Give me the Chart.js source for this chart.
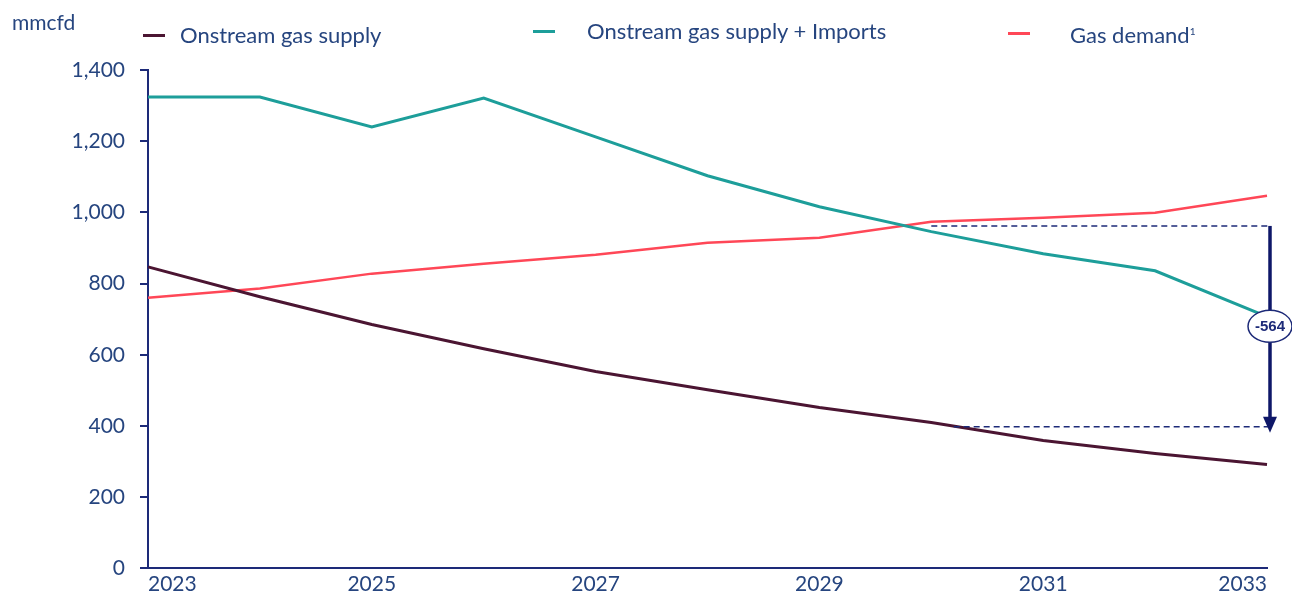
<!DOCTYPE html>
<html>
<head>
<meta charset="utf-8">
<script src="https://cdn.jsdelivr.net/npm/chart.js@4"></script>
<style>
  body { margin: 0; background: #fff; }
  #wrap { position: relative; width: 1292px; height: 596px; font-family: Lato, "Open Sans", sans-serif; color: #26457f; }
  #unit { position: absolute; left: 12px; top: 9px; font-size: 21px; line-height: 26px; }
  .leg { position: absolute; font-size: 22px; line-height: 26px; white-space: nowrap; }
  .leg i { position: absolute; top: 50%; height: 3px; margin-top: -1px; width: 22px; }
  .leg sup { font-size: 10px; }
</style>
</head>
<body>
<div id="wrap">
  <canvas id="chart" width="1292" height="596"></canvas>
  <div id="unit">mmcfd</div>
  <div id="legend"></div>
</div>
<script>
//categories
const years = ["2023", "2024", "2025", "2026", "2027", "2028", "2029", "2030", "2031", "2032", "2033"];
//series values (mmcfd)
const onstreamSupply = [847, 763, 685, 617, 553, 502, 452, 410, 359, 323, 292];
const supplyPlusImports = [1324, 1324, 1240, 1321, 1212, 1103, 1016, 946, 884, 836, 707];
const gasDemand = [760, 786, 828, 856, 881, 915, 929, 974, 985, 999, 1047];
const seriesNames = ["Onstream gas supply", "Onstream gas supply + Imports", "Gas demand"];
//y axis ticks
const yMin = 0, yMax = 1400, yStep = 200;
//gap shown on the right
const gapTop = 962;
const gapBottom = 398;
const gapLabel = "-564";

const navy = "#1d2a78";
const textColor = "#26457f";
const colors = ["#4b1532", "#1d9e9a", "#ff4757"];

//legend (html)
const legendPlaces = [
  { left: 143, top: 22, gap: 37 },
  { left: 533, top: 18, gap: 54 },
  { left: 1008, top: 18, gap: 62 },
];
const legend = document.getElementById("legend");
seriesNames.forEach((name, i) => {
  const p = legendPlaces[i];
  const d = document.createElement("div");
  d.className = "leg";
  d.style.left = p.left + "px";
  d.style.top = p.top + "px";
  d.style.paddingLeft = p.gap + "px";
  d.innerHTML = `<i style="left:0;background:${colors[i]}"></i>${name}${i === 2 ? "<sup>1</sup>" : ""}`;
  legend.appendChild(d);
});

//draws the dashed gap lines, arrow and bubble
const gapPlugin = {
  id: "gap",
  afterDatasetsDraw(chart) {
    const { ctx, scales: { x, y } } = chart;
    const yTop = y.getPixelForValue(gapTop);
    const yBot = y.getPixelForValue(gapBottom);
    const ax = x.getPixelForValue(years.length - 1) + 3;
    ctx.save();
    ctx.strokeStyle = navy;
    ctx.lineWidth = 1.6;
    ctx.setLineDash([6, 4]);
    ctx.beginPath();
    ctx.moveTo(x.getPixelForValue(7), yTop);
    ctx.lineTo(ax, yTop);
    ctx.moveTo(x.getPixelForValue(7.2), yBot);
    ctx.lineTo(ax, yBot);
    ctx.stroke();
    ctx.setLineDash([]);
    //arrow
    ctx.strokeStyle = "#0e1768";
    ctx.fillStyle = "#0e1768";
    ctx.lineWidth = 3.5;
    ctx.beginPath();
    ctx.moveTo(ax, yTop);
    ctx.lineTo(ax, yBot - 8);
    ctx.stroke();
    ctx.beginPath();
    ctx.moveTo(ax - 7, yBot - 10);
    ctx.lineTo(ax + 7, yBot - 10);
    ctx.lineTo(ax, yBot + 6);
    ctx.closePath();
    ctx.fill();
    //bubble
    const cy = (yTop + yBot) / 2;
    ctx.beginPath();
    ctx.ellipse(ax, cy, 22, 16, 0, 0, Math.PI * 2);
    ctx.fillStyle = "#fff";
    ctx.fill();
    ctx.lineWidth = 1.5;
    ctx.strokeStyle = navy;
    ctx.stroke();
    ctx.fillStyle = navy;
    ctx.font = "bold 15px Arial, 'Liberation Sans', sans-serif";
    ctx.textAlign = "center";
    ctx.textBaseline = "middle";
    ctx.fillText(gapLabel, ax, cy + 1);
    ctx.restore();
  },
};

new Chart(document.getElementById("chart"), {
  type: "line",
  plugins: [gapPlugin],
  data: {
    labels: years,
    datasets: [
      { label: seriesNames[0], data: onstreamSupply, borderColor: colors[0], borderWidth: 3 },
      { label: seriesNames[1], data: supplyPlusImports, borderColor: colors[1], borderWidth: 3 },
      { label: seriesNames[2], data: gasDemand, borderColor: colors[2], borderWidth: 2.5 },
    ],
  },
  options: {
    responsive: false,
    animation: false,
    layout: { padding: { top: 70, right: 25, left: 0, bottom: 0 } },
    elements: { point: { radius: 0 }, line: { tension: 0 } },
    plugins: { legend: { display: false }, tooltip: { enabled: false } },
    scales: {
      x: {
        grid: { display: false, drawTicks: false },
        border: { display: true, color: navy, width: 2 },
        ticks: {
          autoSkip: false,
          maxRotation: 0,
          align: "inner",
          padding: 3,
          color: textColor,
          font: { family: "Lato", size: 21 },
          callback: (v, i) => (i % 2 === 0 ? years[i] : ""),
        },
        afterFit: (s) => { s.height = 27; },
      },
      y: {
        min: yMin,
        max: yMax,
        grid: { drawOnChartArea: false, drawTicks: true, tickLength: 8, color: navy, lineWidth: 2 },
        border: { display: true, color: navy, width: 2 },
        ticks: {
          stepSize: yStep,
          padding: 15,
          color: textColor,
          font: { family: "Lato", size: 21 },
          callback: (v) => v.toLocaleString("en-US"),
        },
        afterFit: (s) => { s.width = 148; },
      },
    },
  },
});
</script>
</body>
</html>
